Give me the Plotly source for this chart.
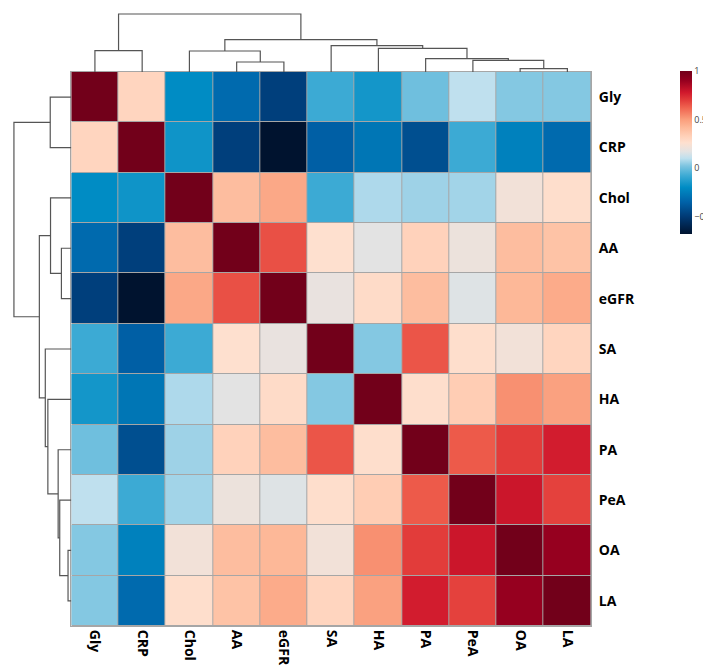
import numpy as np
import plotly.graph_objects as go

# ---------------- data ----------------
labels = ["Gly", "CRP", "Chol", "AA", "eGFR", "SA", "HA", "PA", "PeA", "OA", "LA"]

# upper-triangle rows of the (symmetric) correlation matrix, starting at the diagonal
row_gly  = [1.00, 0.31, -0.20, -0.32, -0.48, -0.08, -0.16, 0.00, 0.10, 0.03, 0.03]
row_crp  = [1.00, -0.17, -0.48, -0.68, -0.36, -0.28, -0.42, -0.08, -0.24, -0.32]
row_chol = [1.00, 0.40, 0.47, -0.08, 0.08, 0.06, 0.065, 0.22, 0.27]
row_aa   = [1.00, 0.66, 0.26, 0.17, 0.32, 0.20, 0.40, 0.38]
row_egfr = [1.00, 0.19, 0.28, 0.40, 0.16, 0.42, 0.46]
row_sa   = [1.00, 0.03, 0.65, 0.27, 0.22, 0.31]
row_ha   = [1.00, 0.27, 0.34, 0.53, 0.49]
row_pa   = [1.00, 0.64, 0.70, 0.77]
row_pea  = [1.00, 0.79, 0.69]
row_oa   = [1.00, 0.90]
row_la   = [1.00]

# hierarchical clustering (same tree for rows and columns):
# (left node, right node, merge height); leaves 0..10, new clusters numbered from 11
merges = [
    (9, 10, 3.3),    # 11: OA + LA
    (3, 4, 10.0),    # 12: AA + eGFR
    (8, 11, 11.7),   # 13: PeA + (OA, LA)
    (7, 13, 13.3),   # 14: PA + 13
    (2, 12, 21.0),   # 15: Chol + (AA, eGFR)
    (0, 1, 21.3),    # 16: Gly + CRP
    (6, 14, 23.7),   # 17: HA + 14
    (5, 17, 26.3),   # 18: SA + 17
    (15, 18, 32.3),  # 19
    (16, 19, 58.0),  # 20: root
]

colorbar_ticks = [-0.5, 0, 0.5, 1]
z_min, z_max = -0.68, 1.0

# ---------------- build matrix ----------------
rows = [row_gly, row_crp, row_chol, row_aa, row_egfr, row_sa, row_ha,
        row_pa, row_pea, row_oa, row_la]
n = len(labels)
M = np.zeros((n, n))
for i, r in enumerate(rows):
    for k, v in enumerate(r):
        j = i + k
        M[i, j] = v
        M[j, i] = v

# ---------------- colour scale ----------------
stops = [
    (-0.68, "#00132F"), (-0.50, "#003A75"), (-0.35, "#0062A8"),
    (-0.20, "#008CC4"), (-0.08, "#3CAAD4"), (0.02, "#7CC4E0"),
    (0.10, "#BFE0EE"), (0.17, "#E3E3E3"), (0.26, "#FEE0CF"),
    (0.33, "#FFD0B8"), (0.42, "#FDB898"), (0.50, "#FA9E7C"),
    (0.62, "#F06450"), (0.70, "#E23C3A"), (0.78, "#D0182C"),
    (0.90, "#96001F"), (1.00, "#72001A"),
]
colorscale = [[(v - z_min) / (z_max - z_min), c] for v, c in stops]

# ---------------- dendrogram geometry ----------------
def dendro(merges, n):
    pos = {i: float(i) for i in range(n)}
    hgt = {i: 0.0 for i in range(n)}
    xs, ys = [], []
    for k, (a, b, h) in enumerate(merges):
        xa, xb = pos[a], pos[b]
        xs += [xa, xa, xb, xb, None]
        ys += [hgt[a], h, h, hgt[b], None]
        pos[n + k] = (xa + xb) / 2
        hgt[n + k] = h
    return xs, ys

dx, dh = dendro(merges, n)

# ---------------- layout geometry ----------------
W, H = 711, 666
hm_x0, hm_x1 = 63.3 / W, 583 / W
hm_y0, hm_y1 = (H - 618) / H, (H - 64) / H
idx = list(range(n))
line_col = "#555555"
grid_col = "#A6A6A6"

fig = go.Figure()
# grey underlay shows through the gaps as cell borders
fig.add_trace(go.Heatmap(
    z=np.zeros((n, n)), x=idx, y=idx,
    colorscale=[[0, grid_col], [1, grid_col]], showscale=False, hoverinfo="skip",
))
fig.add_trace(go.Heatmap(
    z=M, x=idx, y=idx, zmin=z_min, zmax=z_max, colorscale=colorscale,
    xgap=1, ygap=1,
    colorbar=dict(
        x=672 / W, xanchor="left", y=(H - 63.3) / H, yanchor="top",
        len=163.4 / H, lenmode="fraction", thickness=12, outlinewidth=0,
        xpad=0, ypad=0,
        tickvals=colorbar_ticks, ticktext=["−0.5", "0", "0.5", "1"],
        ticks="", tickfont=dict(family="Open Sans", size=9, color="#444"),
    ),
))
fig.add_trace(go.Scatter(x=dx, y=dh, mode="lines", xaxis="x2", yaxis="y2",
                         line=dict(color=line_col, width=1.2), hoverinfo="skip",
                         showlegend=False))
fig.add_trace(go.Scatter(x=dh, y=dx, mode="lines", xaxis="x3", yaxis="y3",
                         line=dict(color=line_col, width=1.2), hoverinfo="skip",
                         showlegend=False))

lab_font = dict(family="Open Sans", size=14, color="black", weight="bold")
fig.update_layout(
    width=W, height=H, autosize=False,
    margin=dict(l=0, r=0, t=0, b=0, autoexpand=False),
    paper_bgcolor="white", plot_bgcolor="white",
    showlegend=False,
    xaxis=dict(domain=[hm_x0, hm_x1], range=[-0.5, n - 0.5], tickvals=idx,
               ticktext=labels, tickangle=90, tickfont=lab_font, ticks="",
               showgrid=False, zeroline=False, showline=True, mirror=True,
               linecolor=grid_col, linewidth=1, anchor="y", fixedrange=True),
    yaxis=dict(domain=[hm_y0, hm_y1], range=[n - 0.5, -0.5], tickvals=idx,
               ticktext=labels, side="right", tickfont=lab_font, ticks="outside",
               ticklen=4, tickcolor="rgba(0,0,0,0)",
               showgrid=False, zeroline=False, showline=True, mirror=True,
               linecolor=grid_col, linewidth=1, anchor="x", fixedrange=True),
    xaxis2=dict(domain=[hm_x0, hm_x1], range=[-0.5, n - 0.5], visible=False,
                anchor="y2"),
    yaxis2=dict(domain=[hm_y1, 1.0], range=[0, 64], visible=False, anchor="x2"),
    xaxis3=dict(domain=[0.0, hm_x0], range=[64, 0], visible=False, anchor="y3"),
    yaxis3=dict(domain=[hm_y0, hm_y1], range=[n - 0.5, -0.5], visible=False,
                anchor="x3"),
)

fig.write_html("out.html")
